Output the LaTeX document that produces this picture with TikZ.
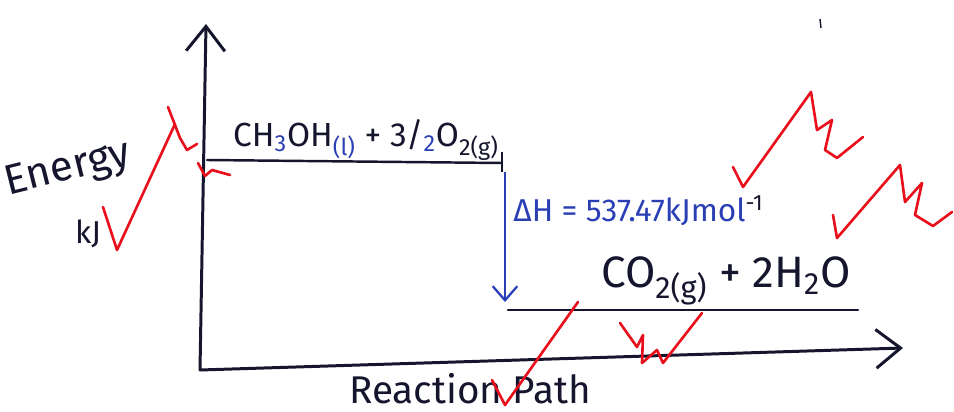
\documentclass[tikz,border=0pt]{standalone}
\usepackage{fontspec}
\setmainfont{Fira Sans}
\usetikzlibrary{arrows.meta, positioning}
\definecolor{inkblack}{HTML}{15152E}
\definecolor{inkblue}{HTML}{2B3FB5}
\definecolor{markred}{HTML}{E8101C}

\begin{document}
\begin{tikzpicture}[x=0.02cm, y=-0.02cm]

  % styles
  \tikzstyle{axis} = [line width=1.7pt, draw=inkblack, line cap=round, line join=round]
  \tikzstyle{level} = [line width=1.4pt, draw=inkblack, line cap=round]
  \tikzstyle{tick} = [line width=1.5pt, draw=markred, line cap=round, line join=round]
  \tikzstyle{txt} = [inner sep=0pt, text=inkblack]
  \tikzstyle{barb} = [-{Straight Barb[length=14pt, width=22pt, line width=1.7pt]}]

  \useasboundingbox (0,0) rectangle (954,412);

  % axes
  \coordinate (origin) at (200,370);
  \coordinate (ytop) at (206,24);
  \coordinate (xend) at (903,348);
  \draw [axis, barb] (origin) -- (ytop);
  \draw [axis, barb] (origin) -- (xend);

  % energy levels
  \coordinate (upleft) at (207,160);
  \coordinate (upright) at (502,163);
  \coordinate (lowleft) at (508,310);
  \coordinate (lowright) at (858,310);
  \draw [level] (upleft) -- (upright);
  \draw [level] (lowleft) -- (lowright);
  \draw [line width=1pt, draw=inkblack] (502,152) -- (502,172);

  % enthalpy arrow
  \coordinate (dhtop) at (505,172);
  \coordinate (dhbot) at (505,302);
  \draw [line width=1.3pt, draw=inkblue, -{Straight Barb[length=8pt, width=14pt, line width=1.3pt]}] (dhtop) -- (dhbot);

  % texts
  \node (reactants) [txt, font=\fontsize{19}{19}\selectfont] at (366,140)
    {CH\textsubscript{\color{inkblue}3}OH\textsubscript{\color{inkblue}(l)} + 3/\textsubscript{\color{inkblue}2}O\textsubscript{2(g)}};
  \node (dh) [txt, anchor=west, text=inkblue, font=\fontsize{18}{18}\selectfont] at (513,211)
    {ΔH = 537.47kJmol\textsuperscript{\color{inkblack}-1}};
  \node (products) [txt, font=\fontsize{25}{25}\selectfont] at (726,281)
    {CO\textsubscript{2(g)} + 2H\textsubscript{2}O};
  \node (energy) [txt, rotate=14, font=\fontsize{24}{24}\selectfont] at (68,170) {Energy};
  \node (unit) [txt, font=\fontsize{18}{18}\selectfont] at (88,234) {kJ};
  \node (xlabel) [txt, font=\fontsize{22}{22}\selectfont] at (470,389) {Reaction Path};

  % red marks
  \draw [tick] (103,207) -- (117,250) -- (175,124);
  \draw [tick] (168,107) -- (180,138) -- (187,150) -- (197,144);
  \draw [tick] (198,163) -- (205,176) -- (212,170) -- (230,175);
  \draw [tick] (733,167) -- (743,187) -- (811,92) -- (817,130) -- (832,120) -- (825,150) -- (837,158) -- (863,137);
  \draw [tick] (833,215) -- (837,238) -- (900,165) -- (905,202) -- (922,183) -- (915,215) -- (933,226) -- (952,212);
  \draw [tick] (492,380) -- (505,405) -- (578,302);
  \draw [tick] (620,323) -- (637,347) -- (643,335) -- (642,363) -- (657,350) -- (663,363) -- (702,313);

  % stray mark
  \draw [line width=0.8pt, draw=inkblack] (820,19) -- (821,28);

\end{tikzpicture}
\end{document}
